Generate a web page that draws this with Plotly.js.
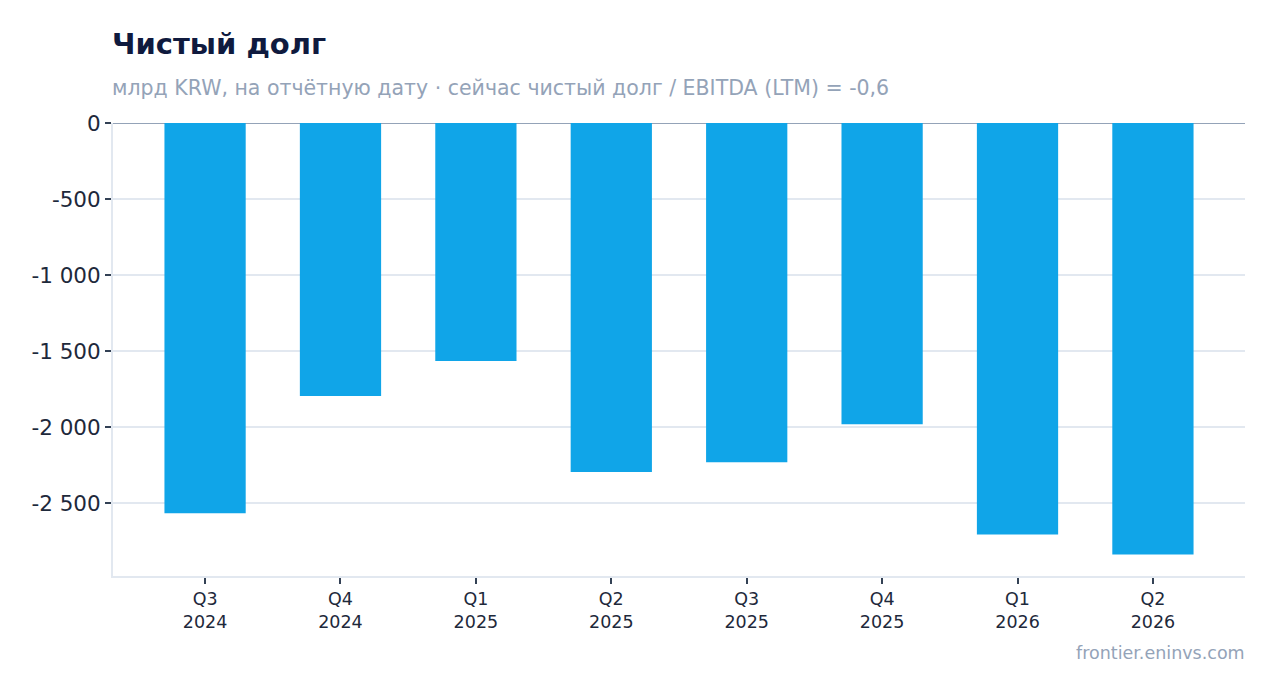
<!DOCTYPE html>
<html>
<head>
<meta charset="utf-8">
<script src="https://cdn.plot.ly/plotly-3.0.1.min.js"></script>
<style>html,body{margin:0;padding:0;background:#fff;}#chart{width:1275px;height:693px;}</style>
</head>
<body>
<div id="chart"></div>
<script>
const categories = ["Q3<br>2024","Q4<br>2024","Q1<br>2025","Q2<br>2025","Q3<br>2025","Q4<br>2025","Q1<br>2026","Q2<br>2026"];
const netDebt = [-2565, -1795, -1565, -2295, -2230, -1980, -2705, -2836];
const titleText = "Чистый долг";
const subtitleText = "млрд KRW, на отчётную дату · сейчас чистый долг / EBITDA (LTM) = -0,6";
const sourceText = "frontier.eninvs.com";
const yTicks = [0, -500, -1000, -1500, -2000, -2500];
const yTickText = ["0", "-500", "-1 000", "-1 500", "-2 000", "-2 500"];

const font = "DejaVu Sans, sans-serif";
const trace = {
  type: "bar",
  x: categories,
  y: netDebt,
  marker: {color: "#10a5e8"},
  hoverinfo: "x+y"
};
const layout = {
  width: 1275, height: 693,
  margin: {l: 113, r: 30, t: 123, b: 117},
  paper_bgcolor: "#fff", plot_bgcolor: "#fff",
  font: {family: font, color: "#0f172a"},
  bargap: 0.4,
  showlegend: false,
  xaxis: {
    type: "category",
    range: [-0.68, 7.68],
    showline: true, linecolor: "#e2e8f0", linewidth: 2,
    ticks: "outside", ticklen: 6, tickcolor: "#334155", tickwidth: 2,
    tickfont: {size: 17.5, color: "#1e293b", family: font},
    showgrid: false
  },
  yaxis: {
    range: [-2978, 0],
    tickvals: yTicks,
    ticktext: yTickText,
    showline: true, linecolor: "#e2e8f0", linewidth: 2,
    ticks: "outside", ticklen: 6, tickcolor: "#334155", tickwidth: 2,
    tickfont: {size: 21.5, color: "#1e293b", family: font},
    gridcolor: "#e2e8f0", gridwidth: 2,
    zeroline: true, zerolinecolor: "#94a3b8", zerolinewidth: 1
  },
  annotations: [
    {text: "<b>" + titleText + "</b>", xref: "paper", yref: "paper", x: 0, y: 1, xanchor: "left", yanchor: "middle",
     yshift: 79, xshift: -3, showarrow: false, font: {size: 29, color: "#0f1a3e", family: font}},
    {text: subtitleText, xref: "paper", yref: "paper", x: 0, y: 1, xanchor: "left", yanchor: "middle",
     yshift: 35, xshift: -3, showarrow: false, font: {size: 20.5, color: "#94a3b8", family: font}},
    {text: sourceText, xref: "paper", yref: "paper", x: 1, y: 0, xanchor: "right", yanchor: "middle",
     yshift: -77, xshift: 2, showarrow: false, font: {size: 17.5, color: "#94a3b8", family: font}}
  ]
};
Plotly.newPlot("chart", [trace], layout, {displayModeBar: false, staticPlot: true});
</script>
</body>
</html>
